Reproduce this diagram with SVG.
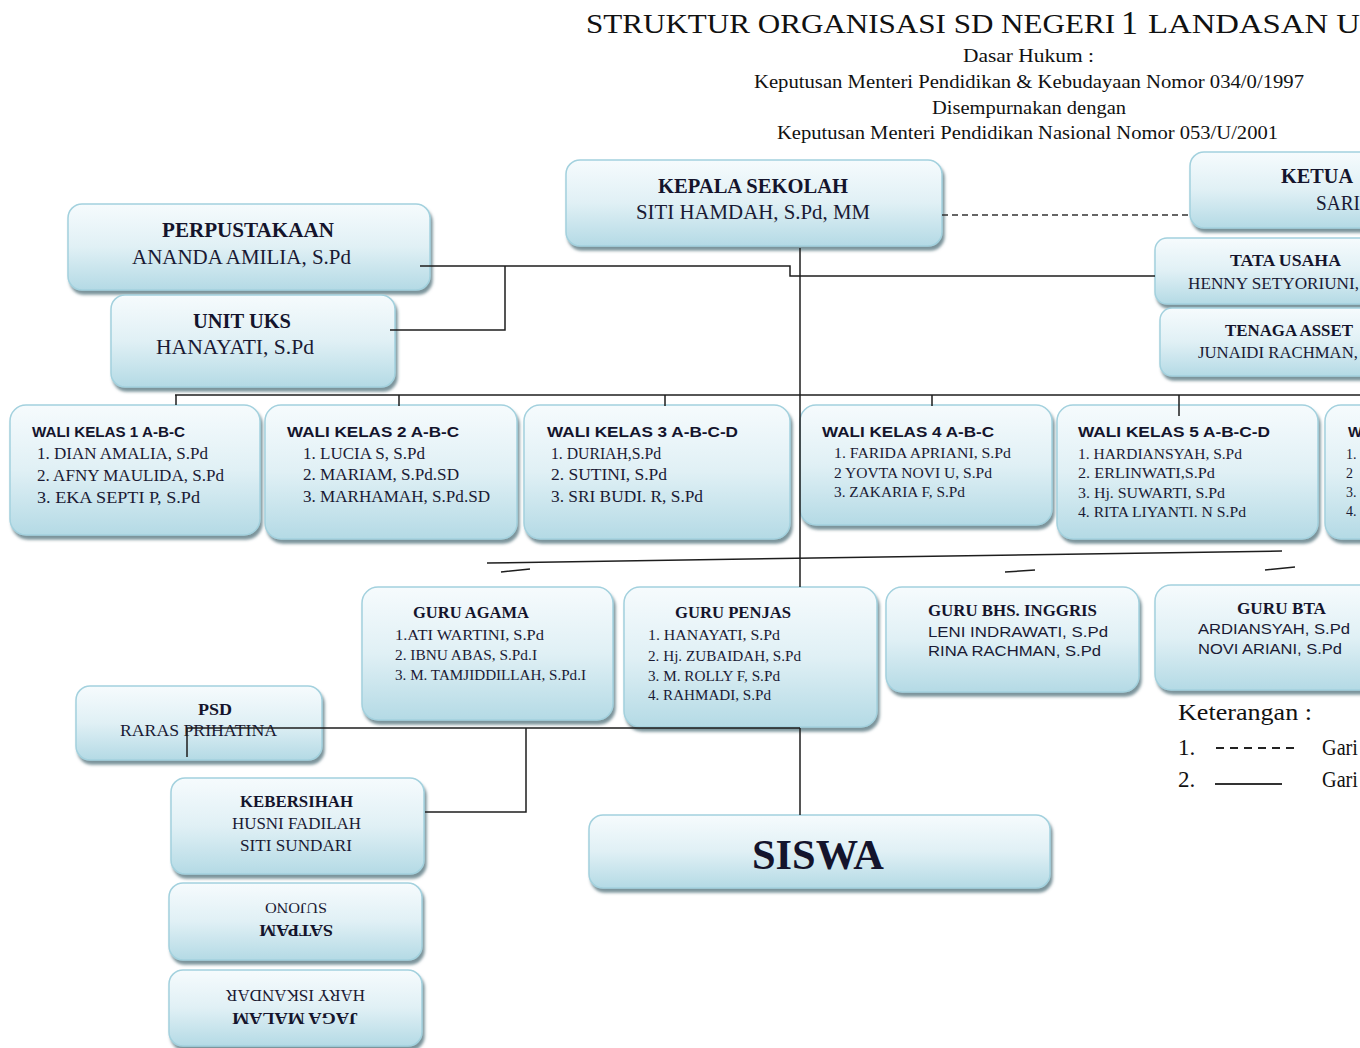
<svg xmlns="http://www.w3.org/2000/svg" width="1360" height="1048" viewBox="0 0 1360 1048">
<defs>
<linearGradient id="g" x1="0" y1="0" x2="0" y2="1">
<stop offset="0" stop-color="#f6fbfd"/>
<stop offset="0.5" stop-color="#e0f0f5"/>
<stop offset="1" stop-color="#b4dae5"/>
</linearGradient>
<filter id="sh" x="-10%" y="-10%" width="120%" height="130%">
<feDropShadow dx="2" dy="4" stdDeviation="1.8" flood-color="#4f6f7a" flood-opacity="0.75"/>
</filter>
<style>
.box{fill:url(#g);stroke:#a3d1de;stroke-width:1.5;filter:url(#sh)}
.tb{font-family:"Liberation Serif",serif;font-weight:bold;fill:#14142c}
.tr{font-family:"Liberation Serif",serif;fill:#1a1a34}
.sb{font-family:"Liberation Sans",sans-serif;font-weight:bold;fill:#14142c}
.sr{font-family:"Liberation Sans",sans-serif;fill:#1a1a34}
.hd{font-family:"Liberation Serif",serif;fill:#111}
.ln{stroke:#1e1e1e;stroke-width:1.5;fill:none}
.dl{stroke:#333;stroke-width:1.6;fill:none;stroke-dasharray:6 4}
</style>
</defs>
<rect width="1360" height="1048" fill="#ffffff"/>

<g id="title">
<text class="hd" x="586" y="33" font-size="28" textLength="529" lengthAdjust="spacingAndGlyphs">STRUKTUR ORGANISASI SD NEGERI</text>
<text class="hd" x="1121" y="34" font-size="34" textLength="17" lengthAdjust="spacingAndGlyphs">1</text>
<text class="hd" x="1148" y="33" font-size="28" textLength="232" lengthAdjust="spacingAndGlyphs">LANDASAN UL</text>
<text class="hd" x="963" y="62" font-size="19" textLength="131" lengthAdjust="spacingAndGlyphs">Dasar Hukum  :</text>
<text class="hd" x="754" y="88" font-size="19" textLength="550" lengthAdjust="spacingAndGlyphs">Keputusan Menteri Pendidikan &amp; Kebudayaan Nomor 034/0/1997</text>
<text class="hd" x="932" y="114" font-size="19" textLength="194" lengthAdjust="spacingAndGlyphs">Disempurnakan dengan</text>
<text class="hd" x="777" y="139" font-size="19" textLength="501" lengthAdjust="spacingAndGlyphs">Keputusan Menteri Pendidikan Nasional Nomor 053/U/2001</text>
</g>

<g id="kepala">
<rect class="box" x="566" y="160" width="376" height="86" rx="14"/>
<text class="tb" x="658" y="193" font-size="21" textLength="190" lengthAdjust="spacingAndGlyphs">KEPALA SEKOLAH</text>
<text class="tr" x="636" y="219" font-size="20" textLength="234" lengthAdjust="spacingAndGlyphs">SITI HAMDAH, S.Pd, MM</text>
</g>
<g id="ketua">
<rect class="box" x="1190" y="152" width="200" height="76" rx="14"/>
<text class="tb" x="1281" y="183" font-size="20" textLength="72" lengthAdjust="spacingAndGlyphs">KETUA</text>
<text class="tr" x="1316" y="210" font-size="20" textLength="44" lengthAdjust="spacingAndGlyphs">SARI</text>
</g>
<g id="perpustakaan">
<rect class="box" x="68" y="204" width="362" height="86" rx="14"/>
<text class="tb" x="162" y="237" font-size="21" textLength="172" lengthAdjust="spacingAndGlyphs">PERPUSTAKAAN</text>
<text class="tr" x="132" y="264" font-size="20" textLength="219" lengthAdjust="spacingAndGlyphs">ANANDA AMILIA, S.Pd</text>
</g>
<g id="uks">
<rect class="box" x="111" y="295" width="284" height="92" rx="14"/>
<text class="tb" x="193" y="328" font-size="21" textLength="98" lengthAdjust="spacingAndGlyphs">UNIT UKS</text>
<text class="tr" x="156" y="354" font-size="20" textLength="158" lengthAdjust="spacingAndGlyphs">HANAYATI, S.Pd</text>
</g>
<g id="tatausaha">
<rect class="box" x="1155" y="238" width="230" height="66" rx="12"/>
<text class="tb" x="1230" y="266" font-size="17" textLength="111" lengthAdjust="spacingAndGlyphs">TATA USAHA</text>
<text class="tr" x="1188" y="289" font-size="17" textLength="171" lengthAdjust="spacingAndGlyphs">HENNY SETYORIUNI,</text>
</g>
<g id="asset">
<rect class="box" x="1160" y="308" width="230" height="68" rx="12"/>
<text class="tb" x="1225" y="336" font-size="17" textLength="128" lengthAdjust="spacingAndGlyphs">TENAGA ASSET</text>
<text class="tr" x="1198" y="358" font-size="17" textLength="160" lengthAdjust="spacingAndGlyphs">JUNAIDI RACHMAN,</text>
</g>

<g id="wk1">
<rect class="box" x="10" y="405" width="250" height="130" rx="16"/>
<text class="sb" x="32" y="437" font-size="15" textLength="153" lengthAdjust="spacingAndGlyphs">WALI KELAS 1 A-B-C</text>
<text class="tr" x="37" y="459" font-size="16" textLength="171" lengthAdjust="spacingAndGlyphs">1. DIAN AMALIA, S.Pd</text>
<text class="tr" x="37" y="481" font-size="16" textLength="187" lengthAdjust="spacingAndGlyphs">2. AFNY MAULIDA, S.Pd</text>
<text class="tr" x="37" y="503" font-size="16" textLength="163" lengthAdjust="spacingAndGlyphs">3. EKA SEPTI  P, S.Pd</text>
</g>
<g id="wk2">
<rect class="box" x="265" y="405" width="252" height="134" rx="16"/>
<text class="sb" x="287" y="437" font-size="15" textLength="172" lengthAdjust="spacingAndGlyphs">WALI KELAS 2 A-B-C</text>
<text class="tr" x="303" y="459" font-size="16" textLength="122" lengthAdjust="spacingAndGlyphs">1. LUCIA S, S.Pd</text>
<text class="tr" x="303" y="480" font-size="16" textLength="156" lengthAdjust="spacingAndGlyphs">2. MARIAM, S.Pd.SD</text>
<text class="tr" x="303" y="502" font-size="16" textLength="187" lengthAdjust="spacingAndGlyphs">3. MARHAMAH, S.Pd.SD</text>
</g>
<g id="wk3">
<rect class="box" x="524" y="405" width="266" height="134" rx="16"/>
<text class="sb" x="547" y="437" font-size="15" textLength="191" lengthAdjust="spacingAndGlyphs">WALI KELAS 3 A-B-C-D</text>
<text class="tr" x="551" y="459" font-size="16" textLength="110" lengthAdjust="spacingAndGlyphs">1. DURIAH,S.Pd</text>
<text class="tr" x="551" y="480" font-size="16" textLength="116" lengthAdjust="spacingAndGlyphs">2. SUTINI, S.Pd</text>
<text class="tr" x="551" y="502" font-size="16" textLength="152" lengthAdjust="spacingAndGlyphs">3. SRI BUDI. R, S.Pd</text>
</g>
<g id="wk4">
<rect class="box" x="800" y="405" width="252" height="120" rx="16"/>
<text class="sb" x="822" y="437" font-size="15" textLength="172" lengthAdjust="spacingAndGlyphs">WALI KELAS 4 A-B-C</text>
<text class="tr" x="834" y="458" font-size="14" textLength="177" lengthAdjust="spacingAndGlyphs">1. FARIDA APRIANI, S.Pd</text>
<text class="tr" x="834" y="478" font-size="14" textLength="158" lengthAdjust="spacingAndGlyphs">2 YOVTA NOVI U, S.Pd</text>
<text class="tr" x="834" y="497" font-size="14" textLength="131" lengthAdjust="spacingAndGlyphs">3. ZAKARIA F, S.Pd</text>
</g>
<g id="wk5">
<rect class="box" x="1057" y="405" width="261" height="134" rx="16"/>
<text class="sb" x="1078" y="437" font-size="15" textLength="192" lengthAdjust="spacingAndGlyphs">WALI KELAS 5 A-B-C-D</text>
<text class="tr" x="1078" y="459" font-size="14" textLength="164" lengthAdjust="spacingAndGlyphs">1. HARDIANSYAH, S.Pd</text>
<text class="tr" x="1078" y="478" font-size="14" textLength="137" lengthAdjust="spacingAndGlyphs">2. ERLINWATI,S.Pd</text>
<text class="tr" x="1078" y="498" font-size="14" textLength="147" lengthAdjust="spacingAndGlyphs">3. Hj. SUWARTI, S.Pd</text>
<text class="tr" x="1078" y="517" font-size="14" textLength="168" lengthAdjust="spacingAndGlyphs">4. RITA LIYANTI. N S.Pd</text>
</g>
<g id="wk6">
<rect class="box" x="1325" y="405" width="60" height="134" rx="16"/>
<text class="sb" x="1348" y="437" font-size="15">W</text>
<text class="tr" x="1346" y="459" font-size="14">1.</text>
<text class="tr" x="1346" y="478" font-size="14">2</text>
<text class="tr" x="1346" y="497" font-size="14">3.</text>
<text class="tr" x="1346" y="516" font-size="14">4.</text>
</g>

<g id="guru-agama">
<rect class="box" x="362" y="587" width="251" height="133" rx="16"/>
<text class="tb" x="413" y="618" font-size="16" textLength="116" lengthAdjust="spacingAndGlyphs">GURU AGAMA</text>
<text class="tr" x="395" y="640" font-size="14" textLength="149" lengthAdjust="spacingAndGlyphs">1.ATI WARTINI, S.Pd</text>
<text class="tr" x="395" y="660" font-size="14" textLength="142" lengthAdjust="spacingAndGlyphs">2. IBNU ABAS, S.Pd.I</text>
<text class="tr" x="395" y="680" font-size="14" textLength="191" lengthAdjust="spacingAndGlyphs">3. M. TAMJIDDILLAH, S.Pd.I</text>
</g>
<g id="guru-penjas">
<rect class="box" x="624" y="587" width="253" height="140" rx="16"/>
<text class="tb" x="675" y="618" font-size="16" textLength="116" lengthAdjust="spacingAndGlyphs">GURU PENJAS</text>
<text class="tr" x="648" y="640" font-size="14" textLength="132" lengthAdjust="spacingAndGlyphs">1. HANAYATI, S.Pd</text>
<text class="tr" x="648" y="661" font-size="14" textLength="153" lengthAdjust="spacingAndGlyphs">2. Hj. ZUBAIDAH, S.Pd</text>
<text class="tr" x="648" y="681" font-size="14" textLength="132" lengthAdjust="spacingAndGlyphs">3. M. ROLLY F, S.Pd</text>
<text class="tr" x="648" y="700" font-size="14" textLength="123" lengthAdjust="spacingAndGlyphs">4. RAHMADI, S.Pd</text>
</g>
<g id="guru-inggris">
<rect class="box" x="886" y="587" width="253" height="105" rx="16"/>
<text class="tb" x="928" y="616" font-size="16" textLength="169" lengthAdjust="spacingAndGlyphs">GURU BHS. INGGRIS</text>
<text class="sr" x="928" y="637" font-size="15" textLength="180" lengthAdjust="spacingAndGlyphs">LENI INDRAWATI, S.Pd</text>
<text class="sr" x="928" y="656" font-size="15" textLength="173" lengthAdjust="spacingAndGlyphs">RINA RACHMAN, S.Pd</text>
</g>
<g id="guru-bta">
<rect class="box" x="1155" y="585" width="230" height="105" rx="16"/>
<text class="tb" x="1237" y="614" font-size="16" textLength="89" lengthAdjust="spacingAndGlyphs">GURU BTA</text>
<text class="sr" x="1198" y="634" font-size="15" textLength="152" lengthAdjust="spacingAndGlyphs">ARDIANSYAH, S.Pd</text>
<text class="sr" x="1198" y="654" font-size="15" textLength="144" lengthAdjust="spacingAndGlyphs">NOVI ARIANI, S.Pd</text>
</g>

<g id="keterangan">
<text class="hd" x="1178" y="720" font-size="23" textLength="134" lengthAdjust="spacingAndGlyphs">Keterangan  :</text>
<text class="hd" x="1178" y="755" font-size="23">1.</text>
<line x1="1216" y1="748" x2="1298" y2="748" stroke="#222" stroke-width="2" stroke-dasharray="8 6"/>
<text class="hd" x="1322" y="755" font-size="23" textLength="36" lengthAdjust="spacingAndGlyphs">Gari</text>
<text class="hd" x="1178" y="787" font-size="23">2.</text>
<line x1="1215" y1="784" x2="1282" y2="784" stroke="#333" stroke-width="2"/>
<text class="hd" x="1322" y="787" font-size="23" textLength="36" lengthAdjust="spacingAndGlyphs">Gari</text>
</g>

<g id="psd">
<rect class="box" x="76" y="686" width="246" height="74" rx="14"/>
<text class="tb" x="198" y="715" font-size="16" textLength="34" lengthAdjust="spacingAndGlyphs">PSD</text>
<text class="tr" x="120" y="736" font-size="16" textLength="157" lengthAdjust="spacingAndGlyphs">RARAS  PRIHATINA</text>
</g>
<g id="kebersihan">
<rect class="box" x="171" y="778" width="253" height="96" rx="14"/>
<text class="tb" x="240" y="807" font-size="16" textLength="113" lengthAdjust="spacingAndGlyphs">KEBERSIHAH</text>
<text class="tr" x="232" y="829" font-size="16" textLength="129" lengthAdjust="spacingAndGlyphs">HUSNI FADILAH</text>
<text class="tr" x="240" y="851" font-size="16" textLength="112" lengthAdjust="spacingAndGlyphs">SITI SUNDARI</text>
</g>
<g id="satpam">
<rect class="box" x="169" y="883" width="253" height="77" rx="14"/>
<g transform="rotate(180 295.5 921.5)">
<text class="tb" x="258" y="918" font-size="16" textLength="74" lengthAdjust="spacingAndGlyphs">SATPAM</text>
<text class="tr" x="264" y="940" font-size="15" textLength="62" lengthAdjust="spacingAndGlyphs">SUJONO</text>
</g>
</g>
<g id="jaga-malam">
<rect class="box" x="169" y="970" width="253" height="76" rx="14"/>
<g transform="rotate(180 295.5 1008)">
<text class="tb" x="233" y="1003" font-size="16" textLength="126" lengthAdjust="spacingAndGlyphs">JAGA MALAM</text>
<text class="tr" x="226" y="1026" font-size="16" textLength="139" lengthAdjust="spacingAndGlyphs">HARY ISKANDAR</text>
</g>
</g>
<g id="siswa">
<rect class="box" x="589" y="815" width="461" height="73" rx="14"/>
<text class="tb" x="752" y="869" font-size="42" textLength="132" lengthAdjust="spacingAndGlyphs">SISWA</text>
</g>

<g id="connectors">
<path class="dl" d="M942 215 H1190"/>
<path class="ln" d="M420 266 H790 V276 H1155"/>
<path class="ln" d="M505 266 V330 H390"/>
<path class="ln" d="M800 248 V587"/>
<path class="ln" d="M800 728 V815"/>
<path class="ln" d="M175 395 H1360"/>
<path class="ln" d="M176 395 V405 M399 395 V406 M665 395 V406 M932 395 V406 M1179 395 V416"/>
<path class="ln" d="M487 563 L1282 551"/>
<path class="ln" d="M501 572 L530 569 M1005 572 L1035 570 M1265 570 L1295 567"/>
<path class="ln" d="M187 757 V728 H800"/>
<path class="ln" d="M526 728 V812 H425"/>
</g>
</svg>
